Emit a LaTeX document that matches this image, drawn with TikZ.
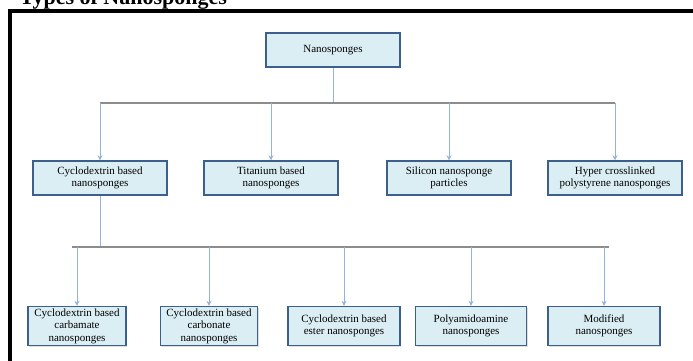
\documentclass[tikz,border=0pt]{standalone}
\usepackage{fontspec}
\setmainfont{Liberation Serif}
\usepackage{tikz}
\usetikzlibrary{arrows.meta, shadows}
\definecolor{boxfill}{HTML}{DBEEF4}
\definecolor{boxline}{HTML}{3C5F8C}
\definecolor{arrowblue}{HTML}{94B3D9}
\definecolor{busgray}{HTML}{8C8C8C}

\begin{document}
\begin{tikzpicture}[x=1pt, y=-1pt]
\tikzstyle{box}=[rectangle, draw=boxline, line width=1.3pt, fill=boxfill, align=center,
  font=\fontsize{11}{12.5}\selectfont, inner sep=1pt,
  drop shadow={shadow xshift=1pt, shadow yshift=-1.2pt, opacity=0.25}]
\tikzstyle{bus}=[draw=busgray, line width=1.6pt]
\tikzstyle{arrow}=[draw=arrowblue, line width=0.8pt, -{Stealth[length=5pt, width=5pt]}]
\tikzstyle{link}=[draw=arrowblue, line width=0.8pt]

\useasboundingbox (0,0) rectangle (693,360);
\fill[white] (0,0) rectangle (693,360);

% title and frame
\node[anchor=base west, font=\fontsize{22}{24}\selectfont\bfseries] (title) at (16,4) {Types of Nanosponges};
\draw[line width=3.5pt] (10,362) -- (10,11) -- (695,11);

% top
\node[box, minimum width=134pt, minimum height=34pt] (nano) at (333,50) {Nanosponges};

% second row
\node[box, minimum width=134pt, minimum height=34pt] (cyc) at (100,178) {Cyclodextrin based\\nanosponges};
\node[box, minimum width=134pt, minimum height=34pt] (tit) at (271,178) {Titanium based\\nanosponges};
\node[box, minimum width=124pt, minimum height=34pt] (sil) at (449,178) {Silicon nanosponge\\particles};
\node[box, minimum width=134pt, minimum height=34pt] (hyp) at (615,178) {Hyper crosslinked\\polystyrene nanosponges};

% third row
\node[box, minimum width=98pt, minimum height=39pt] (carb) at (77,326) {Cyclodextrin based\\carbamate\\nanosponges};
\node[box, minimum width=97pt, minimum height=39pt] (carbo) at (209,326) {Cyclodextrin based\\carbonate\\nanosponges};
\node[box, minimum width=112pt, minimum height=39pt] (ester) at (344,326) {Cyclodextrin based\\ester nanosponges};
\node[box, minimum width=111pt, minimum height=39pt] (poly) at (471,326) {Polyamidoamine\\nanosponges};
\node[box, minimum width=112pt, minimum height=39pt] (mod) at (604,326) {Modified\\nanosponges};

\coordinate (busa) at (333,103);
\coordinate (busb) at (100,247);

% first level
\draw[link] (nano.south) -- (nano.south |- busa);
\draw[bus] (cyc.north |- busa) -- (hyp.north |- busa);
\draw[arrow] (cyc.north |- busa) -- (cyc.north);
\draw[arrow] (tit.north |- busa) -- (tit.north);
\draw[arrow] (sil.north |- busa) -- (sil.north);
\draw[arrow] (hyp.north |- busa) -- (hyp.north);

% second level
\draw[link] (cyc.south) -- (busb);
\draw[bus] ([xshift=-5pt]carb.north |- busb) -- ([xshift=5pt]mod.north |- busb);
\draw[arrow] (carb.north |- busb) -- (carb.north);
\draw[arrow] (carbo.north |- busb) -- (carbo.north);
\draw[arrow] (ester.north |- busb) -- (ester.north);
\draw[arrow] (poly.north |- busb) -- (poly.north);
\draw[arrow] (mod.north |- busb) -- (mod.north);

\end{tikzpicture}
\end{document}
